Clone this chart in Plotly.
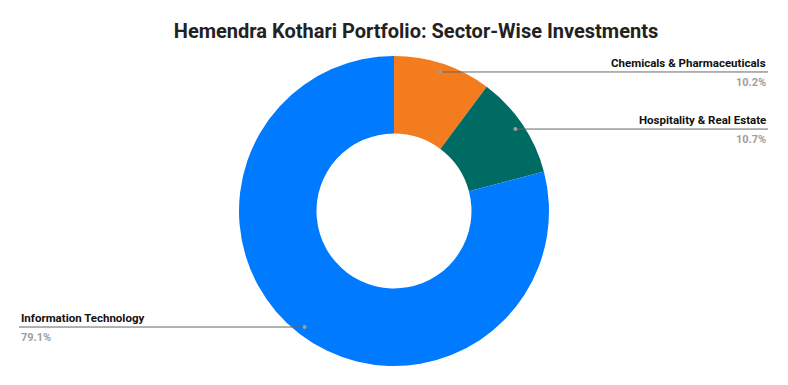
import math
import plotly.graph_objects as go

sectors = ["Chemicals & Pharmaceuticals", "Hospitality & Real Estate", "Information Technology"]
shares = [10.2, 10.7, 79.1]
colors = ["#F37C1E", "#006B63", "#007AFF"]

# The page body has an 8px margin, so the figure is drawn at page offset (8, 8)
OFF = 8
W, H = 788 - OFF, 385 - OFF
mt, mb, ml, mr = 48, 19, 0, 8
ph = H - mt - mb
pw = W - ml - mr
cx, cy = ml + pw / 2, mt + ph / 2          # figure pixel coords
R = ph / 2

fig = go.Figure(go.Pie(
    labels=sectors, values=shares, hole=0.5, sort=False, direction="clockwise",
    rotation=0, marker=dict(colors=colors, line=dict(width=0)),
    textinfo="none", hoverinfo="label+percent", showlegend=False,
))

def fig2paper(x, y):
    return (x - ml) / pw, (H - mb - y) / ph

shapes, annots = [], []
total = sum(shares)
cum = 0
for name, v in zip(sectors, shares):
    mid = (cum + v / 2) / total * 2 * math.pi
    cum += v
    dx, dy = math.sin(mid), -math.cos(mid)
    r = R * 0.945
    x0, y0 = cx + dx * r, cy + dy * r
    right = dx >= 0
    xe = (768 if right else 19) - OFF
    px0, py0 = fig2paper(x0, y0)
    pxe, _ = fig2paper(xe, y0)
    shapes.append(dict(type="line", xref="paper", yref="paper", x0=px0, y0=py0, x1=pxe, y1=py0,
                       line=dict(color="#666666", width=1)))
    shapes.append(dict(type="circle", xref="paper", yref="paper", xsizemode="pixel", ysizemode="pixel",
                       xanchor=px0, yanchor=py0, x0=-2, x1=2, y0=-2, y1=2,
                       fillcolor="#9e9e9e", line=dict(width=0)))
    anchor = "right" if right else "left"
    annots.append(dict(xref="paper", yref="paper", x=pxe, y=py0, xanchor=anchor, yanchor="bottom",
                       yshift=0, text=f"<b>{name}</b>", showarrow=False,
                       font=dict(family="Roboto", size=11.5, color="#111111")))
    annots.append(dict(xref="paper", yref="paper", x=pxe, y=py0, xanchor=anchor, yanchor="top",
                       yshift=-2, text=f"<b>{v:.1f}%</b>", showarrow=False,
                       font=dict(family="Roboto", size=11, color="#9e9e9e")))

fig.update_layout(
    width=W, height=H, margin=dict(l=ml, r=mr, t=mt, b=mb),
    paper_bgcolor="white", plot_bgcolor="white",
    title=dict(text="<b>Hemendra Kothari Portfolio: Sector-Wise Investments</b>",
               xref="container", x=(416 - OFF) / W, xanchor="center",
               yref="container", y=1 - (31 - OFF) / H, yanchor="middle",
               font=dict(family="Roboto", size=20, color="#222222")),
    shapes=shapes, annotations=annots,
)
fig.write_html("out.html")
